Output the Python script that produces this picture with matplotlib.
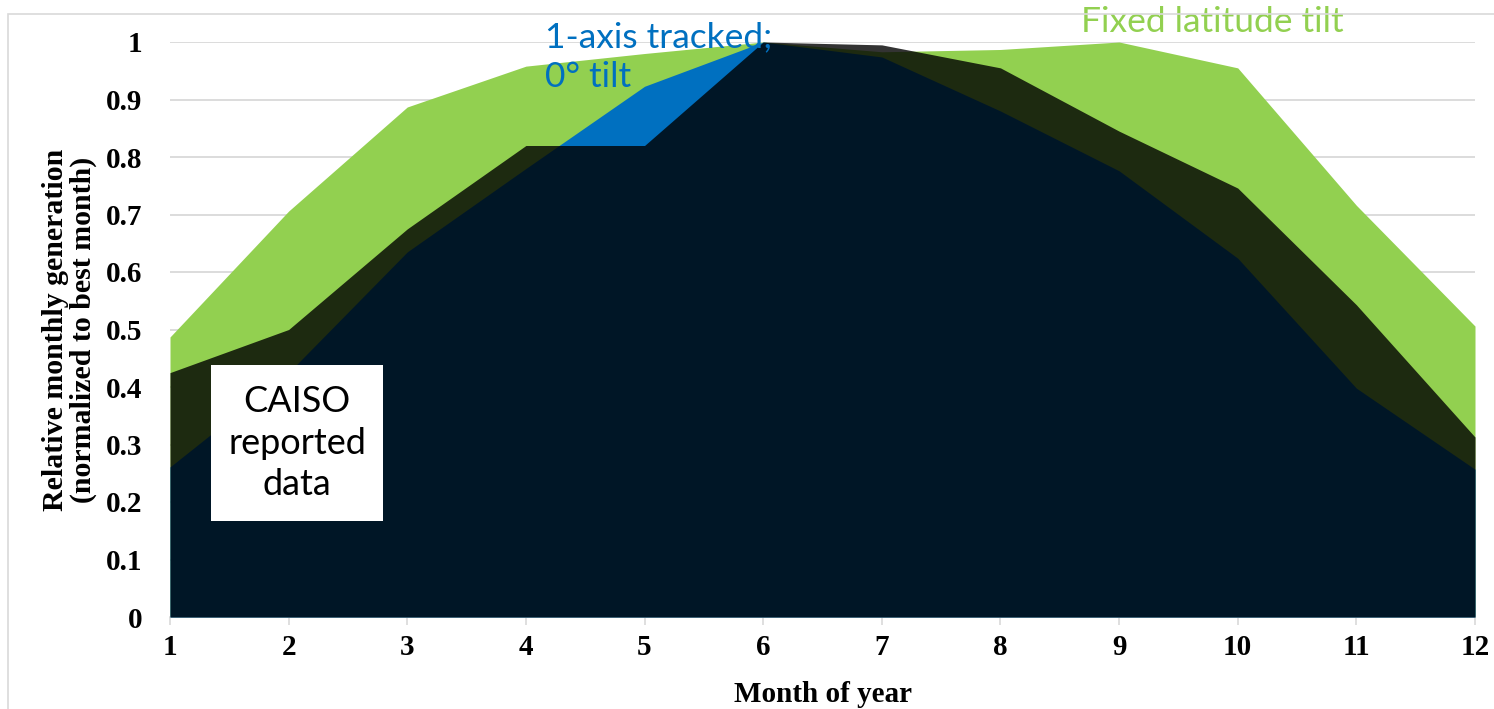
import matplotlib
matplotlib.use("Agg")
import matplotlib.pyplot as plt
from matplotlib.patches import Rectangle

months = [1, 2, 3, 4, 5, 6, 7, 8, 9, 10, 11, 12]
fixed_tilt = [0.487, 0.706, 0.887, 0.958, 0.980, 1.000, 0.983, 0.987, 1.000, 0.955, 0.716, 0.506]
tracked_0tilt = [0.261, 0.425, 0.635, 0.780, 0.923, 1.000, 0.974, 0.880, 0.776, 0.624, 0.398, 0.257]
caiso = [0.425, 0.500, 0.675, 0.820, 0.820, 1.000, 0.995, 0.955, 0.845, 0.746, 0.543, 0.313]
y_ticks = [0, 0.1, 0.2, 0.3, 0.4, 0.5, 0.6, 0.7, 0.8, 0.9, 1]
y_tick_labels = ["0", "0.1", "0.2", "0.3", "0.4", "0.5", "0.6", "0.7", "0.8", "0.9", "1"]

W, H = 1494, 709
fig = plt.figure(figsize=(W / 100, H / 100), dpi=100)

# outer frame
fig.patches.append(Rectangle((8 / W, -0.1), 1.2, (H - 14) / H + 0.1, transform=fig.transFigure,
                             fill=False, edgecolor="#d9d9d9", linewidth=1.2, zorder=0))

ax = fig.add_axes([170 / W, 92 / H, 1305 / W, 575 / H])
ax.set_xlim(1, 12)
ax.set_ylim(0, 1)
ax.set_axisbelow(True)
ax.grid(axis="y", color="#d9d9d9", linewidth=1.3)

green = "#92d050"
blue = "#0070c0"
ax.fill_between(months, 0, fixed_tilt, color=green, linewidth=0, zorder=2)
ax.fill_between(months, 0, tracked_0tilt, color=blue, linewidth=0, zorder=3)
ax.fill_between(months, 0, caiso, color="black", alpha=0.8, linewidth=0, zorder=4)

for s in ["top", "right", "left"]:
    ax.spines[s].set_visible(False)
ax.spines["bottom"].set_color("#d9d9d9")
ax.spines["bottom"].set_linewidth(1.2)

serif = "Liberation Serif"
ax.set_xticks(months)
ax.set_xticklabels([str(m) for m in months], fontfamily=serif, fontweight="bold", fontsize=21)
ax.set_yticks(y_ticks)
ax.set_yticklabels(y_tick_labels, fontfamily=serif, fontweight="bold", fontsize=21)
ax.tick_params(axis="x", length=6, color="#d9d9d9", width=1.2, pad=6)
ax.tick_params(axis="y", length=0, pad=20)

ax.set_xlabel("Month of year", fontfamily=serif, fontweight="bold", fontsize=21, labelpad=15)
ax.set_ylabel("Relative monthly generation\n(normalized to best month)", fontfamily=serif,
              fontweight="bold", fontsize=21.5, labelpad=6, linespacing=1.05)

sans = "Lato"
ax.text(545 / W, 1 - 57 / H, "1-axis tracked;\n0\u00b0 tilt", transform=fig.transFigure,
        color=blue, fontfamily=sans, fontsize=25.5, ha="left", va="center", linespacing=1.3, zorder=6)
ax.text(1212 / W, 1 - 22 / H, "Fixed latitude tilt", transform=fig.transFigure,
        color=green, fontfamily=sans, fontsize=25.5, ha="center", va="center", zorder=6)

fig.patches.append(Rectangle((211 / W, 1 - 521 / H), 172 / W, 156 / H, transform=fig.transFigure,
                             facecolor="white", edgecolor="none", zorder=5))
fig.text(297 / W, 1 - 443 / H, "CAISO\nreported\ndata", color="black", fontfamily=sans,
         fontsize=26, ha="center", va="center", linespacing=1.32, zorder=6)

fig.savefig("out.png", dpi=100)
